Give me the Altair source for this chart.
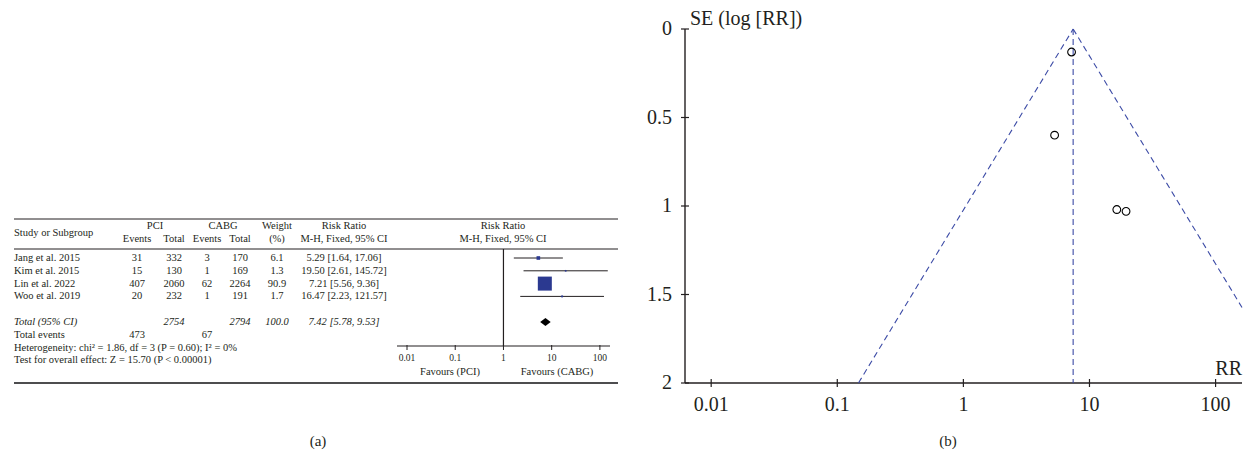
import math

import altair as alt
import pandas as pd

# ---------------------------------------------------------------- data
studies = ["Jang et al. 2015", "Kim et al. 2015", "Lin et al. 2022", "Woo et al. 2019"]
pci_events = [31, 15, 407, 20]
pci_total = [332, 130, 2060, 232]
cabg_events = [3, 1, 62, 1]
cabg_total = [170, 169, 2264, 191]
weight_pct = [6.1, 1.3, 90.9, 1.7]
risk_ratio = [5.29, 19.50, 7.21, 16.47]
ci_lower = [1.64, 2.61, 5.56, 2.23]
ci_upper = [17.06, 145.72, 9.36, 121.57]
se_log_rr = [0.60, 1.03, 0.13, 1.02]

pooled_rr = 7.42
pooled_lower = 5.78
pooled_upper = 9.53
pci_total_sum = 2754
cabg_total_sum = 2794
pci_events_sum = 473
cabg_events_sum = 67
heterogeneity = "Heterogeneity: chi² = 1.86, df = 3 (P = 0.60); I² = 0%"
overall_effect = "Test for overall effect: Z = 15.70 (P < 0.00001)"

rr_ticks = [0.01, 0.1, 1, 10, 100]
rr_tick_labels = ["0.01", "0.1", "1", "10", "100"]
se_ticks = [0, 0.5, 1, 1.5, 2]
se_tick_labels = ["0", "0.5", "1", "1.5", "2"]

# ---------------------------------------------------------------- style
SERIF = "Liberation Serif"
INK = "#231f20"
SQUARE_BLUE = "#2b3990"
FUNNEL_BLUE = "#3c4ba6"
Z95 = 1.96
FUNNEL_FONT = 20

RR_MIN, RR_MAX = 0.0062, 162
SE_MAX = 2

FOREST_X = alt.Scale(type="log", domain=[RR_MIN, RR_MAX], range=[397, 610], nice=False)
ROW_Y = alt.Scale(domain=[0, 8], range=[258, 360.4], nice=False, zero=False)
FUNNEL_X = alt.Scale(type="log", domain=[RR_MIN, RR_MAX], range=[685, 1242], nice=False)
FUNNEL_Y = alt.Scale(domain=[0, SE_MAX], range=[29, 383], nice=False, zero=False)

layers = []


def text_at(label, x, y, size=10.5, align="center", baseline="middle", style="normal"):
    return (
        alt.Chart(pd.DataFrame({"label": [label]}))
        .mark_text(font=SERIF, fontSize=size, color=INK, align=align,
                   baseline=baseline, fontStyle=style)
        .encode(text="label:N", x=alt.value(x), y=alt.value(y))
    )


def hline(x0, x1, y, width=1.0, color=INK):
    return (
        alt.Chart(pd.DataFrame({"k": [0]}))
        .mark_rule(color=color, strokeWidth=width)
        .encode(x=alt.value(x0), x2=alt.value(x1), y=alt.value(y))
    )


# ================================================================ (a) forest plot
study_df = pd.DataFrame({
    "row": list(range(len(studies))),
    "study": studies,
    "pci_e": [str(v) for v in pci_events],
    "pci_t": [str(v) for v in pci_total],
    "cabg_e": [str(v) for v in cabg_events],
    "cabg_t": [str(v) for v in cabg_total],
    "weight": [f"{v:.1f}" for v in weight_pct],
    "w": weight_pct,
    "rr": risk_ratio,
    "lo": ci_lower,
    "hi": ci_upper,
    "rr_txt": [f"{r:.2f} [{l:.2f}, {h:.2f}]" for r, l, h in zip(risk_ratio, ci_lower, ci_upper)],
})

TOTAL_ROW, EVENTS_ROW, HET_ROW, TEST_ROW = 5, 6, 7, 8

# table rules
layers += [hline(14, 618, 219, 1.0), hline(14, 618, 249, 1.0), hline(14, 618, 383, 1.8, "#4d4d4f")]

# header
layers += [
    text_at("Study or Subgroup", 14, 233, align="left"),
    text_at("PCI", 155, 226), text_at("CABG", 223, 226), text_at("Weight", 277, 226),
    text_at("Risk Ratio", 344, 226), text_at("Risk Ratio", 503, 226),
    text_at("Events", 137, 239), text_at("Total", 174, 239),
    text_at("Events", 207, 239), text_at("Total", 240, 239),
    text_at("(%)", 277, 239),
    text_at("M-H, Fixed, 95% CI", 344, 239), text_at("M-H, Fixed, 95% CI", 503, 239),
]

# study rows
row_y = alt.Y("row:Q", scale=ROW_Y, axis=None)
columns = [("study", 14, "left"), ("pci_e", 137, "center"), ("pci_t", 174, "center"),
           ("cabg_e", 207, "center"), ("cabg_t", 240, "center"), ("weight", 277, "center"),
           ("rr_txt", 344, "center")]
for field, x, align in columns:
    layers.append(
        alt.Chart(study_df)
        .mark_text(font=SERIF, fontSize=10.5, color=INK, align=align, baseline="middle")
        .encode(x=alt.value(x), y=row_y, text=f"{field}:N")
    )

# summary rows
summary_italic = pd.DataFrame({
    "row": [TOTAL_ROW] * 5,
    "text": ["Total (95% CI)", str(pci_total_sum), str(cabg_total_sum), "100.0",
             f"{pooled_rr:.2f} [{pooled_lower:.2f}, {pooled_upper:.2f}]"],
    "col": ["study", "pci_t", "cabg_t", "weight", "rr_txt"],
})
summary_plain = pd.DataFrame({
    "row": [EVENTS_ROW, EVENTS_ROW, EVENTS_ROW, HET_ROW, TEST_ROW],
    "text": ["Total events", str(pci_events_sum), str(cabg_events_sum), heterogeneity, overall_effect],
    "col": ["study", "pci_e", "cabg_e", "study", "study"],
})
for df, style in [(summary_italic, "italic"), (summary_plain, "normal")]:
    for field, x, align in columns:
        if field not in set(df["col"]):
            continue
        layers.append(
            alt.Chart(df)
            .transform_filter(alt.datum.col == field)
            .mark_text(font=SERIF, fontSize=10.5, color=INK, align=align,
                       baseline="middle", fontStyle=style)
            .encode(x=alt.value(x), y=row_y, text="text:N")
        )

# null line at RR = 1
layers.append(
    alt.Chart(pd.DataFrame({"v": [1]}))
    .mark_rule(color=INK, strokeWidth=1.2)
    .encode(x=alt.X("v:Q", scale=FOREST_X, axis=None), y=alt.value(249), y2=alt.value(346))
)

# confidence intervals and weighted squares
layers.append(
    alt.Chart(study_df)
    .mark_rule(color=INK, strokeWidth=1)
    .encode(x=alt.X("lo:Q", scale=FOREST_X, axis=None), x2="hi:Q", y=row_y)
)
layers.append(
    alt.Chart(study_df)
    .mark_square(color=SQUARE_BLUE, opacity=1)
    .encode(
        x=alt.X("rr:Q", scale=FOREST_X, axis=None),
        y=row_y,
        size=alt.Size("w:Q", scale=alt.Scale(domain=[0, 100], range=[0, 216]), legend=None),
    )
)

# pooled estimate diamond
half = 0.31
diamond_df = pd.DataFrame({
    "x": [pooled_lower, pooled_rr, pooled_upper],
    "top": [TOTAL_ROW, TOTAL_ROW - half, TOTAL_ROW],
    "bottom": [TOTAL_ROW, TOTAL_ROW + half, TOTAL_ROW],
})
layers.append(
    alt.Chart(diamond_df)
    .mark_area(color="#000000", orient="vertical", opacity=1)
    .encode(x=alt.X("x:Q", scale=FOREST_X, axis=None),
            y=alt.Y("top:Q", scale=ROW_Y, axis=None), y2="bottom:Q")
)

# forest axis
forest_ticks = pd.DataFrame({"v": rr_ticks, "label": rr_tick_labels})
layers.append(
    alt.Chart(pd.DataFrame({"lo": [RR_MIN], "hi": [RR_MAX]}))
    .mark_rule(color=INK, strokeWidth=1.2)
    .encode(x=alt.X("lo:Q", scale=FOREST_X, axis=None), x2="hi:Q", y=alt.value(346))
)
layers.append(
    alt.Chart(forest_ticks)
    .mark_rule(color=INK, strokeWidth=1)
    .encode(x=alt.X("v:Q", scale=FOREST_X, axis=None), y=alt.value(345), y2=alt.value(350))
)
layers.append(
    alt.Chart(forest_ticks)
    .mark_text(font=SERIF, fontSize=9.5, color=INK, baseline="middle")
    .encode(x=alt.X("v:Q", scale=FOREST_X, axis=None), y=alt.value(358), text="label:N")
)
layers += [text_at("Favours (PCI)", 450, 372, size=10.5), text_at("Favours (CABG)", 557, 372, size=10.5)]

# ================================================================ (b) funnel plot
fx = lambda f: alt.X(f, scale=FUNNEL_X, axis=None)
fy = lambda f: alt.Y(f, scale=FUNNEL_Y, axis=None)

# axis lines
layers.append(
    alt.Chart(pd.DataFrame({"x": [RR_MIN], "s0": [0], "s1": [SE_MAX]}))
    .mark_rule(color=INK, strokeWidth=1.4)
    .encode(x=fx("x:Q"), y=fy("s0:Q"), y2="s1:Q")
)
layers.append(
    alt.Chart(pd.DataFrame({"lo": [RR_MIN], "hi": [RR_MAX], "s": [SE_MAX]}))
    .mark_rule(color=INK, strokeWidth=1.4)
    .encode(x=fx("lo:Q"), x2="hi:Q", y=fy("s:Q"))
)

se_tick_df = pd.DataFrame({"s": se_ticks, "label": se_tick_labels})
layers.append(
    alt.Chart(se_tick_df)
    .mark_rule(color=INK, strokeWidth=1.2)
    .encode(y=fy("s:Q"), x=alt.value(681), x2=alt.value(689))
)
layers.append(
    alt.Chart(se_tick_df)
    .mark_text(font=SERIF, fontSize=FUNNEL_FONT, color=INK, align="right", baseline="middle")
    .encode(y=fy("s:Q"), x=alt.value(672), text="label:N")
)

rr_tick_df = pd.DataFrame({"v": rr_ticks, "label": rr_tick_labels})
layers.append(
    alt.Chart(rr_tick_df)
    .mark_rule(color=INK, strokeWidth=1.2)
    .encode(x=fx("v:Q"), y=alt.value(379), y2=alt.value(387))
)
layers.append(
    alt.Chart(rr_tick_df)
    .mark_text(font=SERIF, fontSize=FUNNEL_FONT, color=INK, baseline="middle")
    .encode(x=fx("v:Q"), y=alt.value(405), text="label:N")
)

layers += [
    text_at("SE (log [RR])", 690, 25, size=FUNNEL_FONT, align="left", baseline="alphabetic"),
    text_at("RR", 1242, 375, size=FUNNEL_FONT, align="right", baseline="alphabetic"),
]

# pseudo 95% confidence limits around the pooled estimate
log_pooled = math.log(pooled_rr)
se_right_edge = (math.log(RR_MAX) - log_pooled) / Z95
funnel_df = pd.DataFrame({
    "side": ["lower", "lower", "pooled", "pooled", "upper", "upper"],
    "rr": [pooled_rr, math.exp(log_pooled - Z95 * SE_MAX), pooled_rr, pooled_rr,
           pooled_rr, RR_MAX],
    "se": [0, SE_MAX, 0, SE_MAX, 0, se_right_edge],
})
layers.append(
    alt.Chart(funnel_df)
    .mark_line(color=FUNNEL_BLUE, strokeWidth=1.1, strokeDash=[6, 4])
    .encode(x=fx("rr:Q"), y=fy("se:Q"), detail="side:N")
)

points_df = pd.DataFrame({"rr": risk_ratio, "se": se_log_rr, "study": studies})
layers.append(
    alt.Chart(points_df)
    .mark_point(shape="circle", filled=False, color="#000000", size=60, strokeWidth=1.1, opacity=1)
    .encode(x=fx("rr:Q"), y=fy("se:Q"))
)

# panel captions
layers += [text_at("(a)", 318, 441, size=15), text_at("(b)", 948, 441, size=15)]

chart = (
    alt.layer(*layers)
    .resolve_scale(x="independent", y="independent", size="independent")
    .properties(width=1258, height=457, autosize=alt.AutoSizeParams(type="none"), padding=0,
                background="white")
    .configure_view(stroke=None)
)

chart.save("out.html", embed_options={"renderer": "svg", "actions": False})
